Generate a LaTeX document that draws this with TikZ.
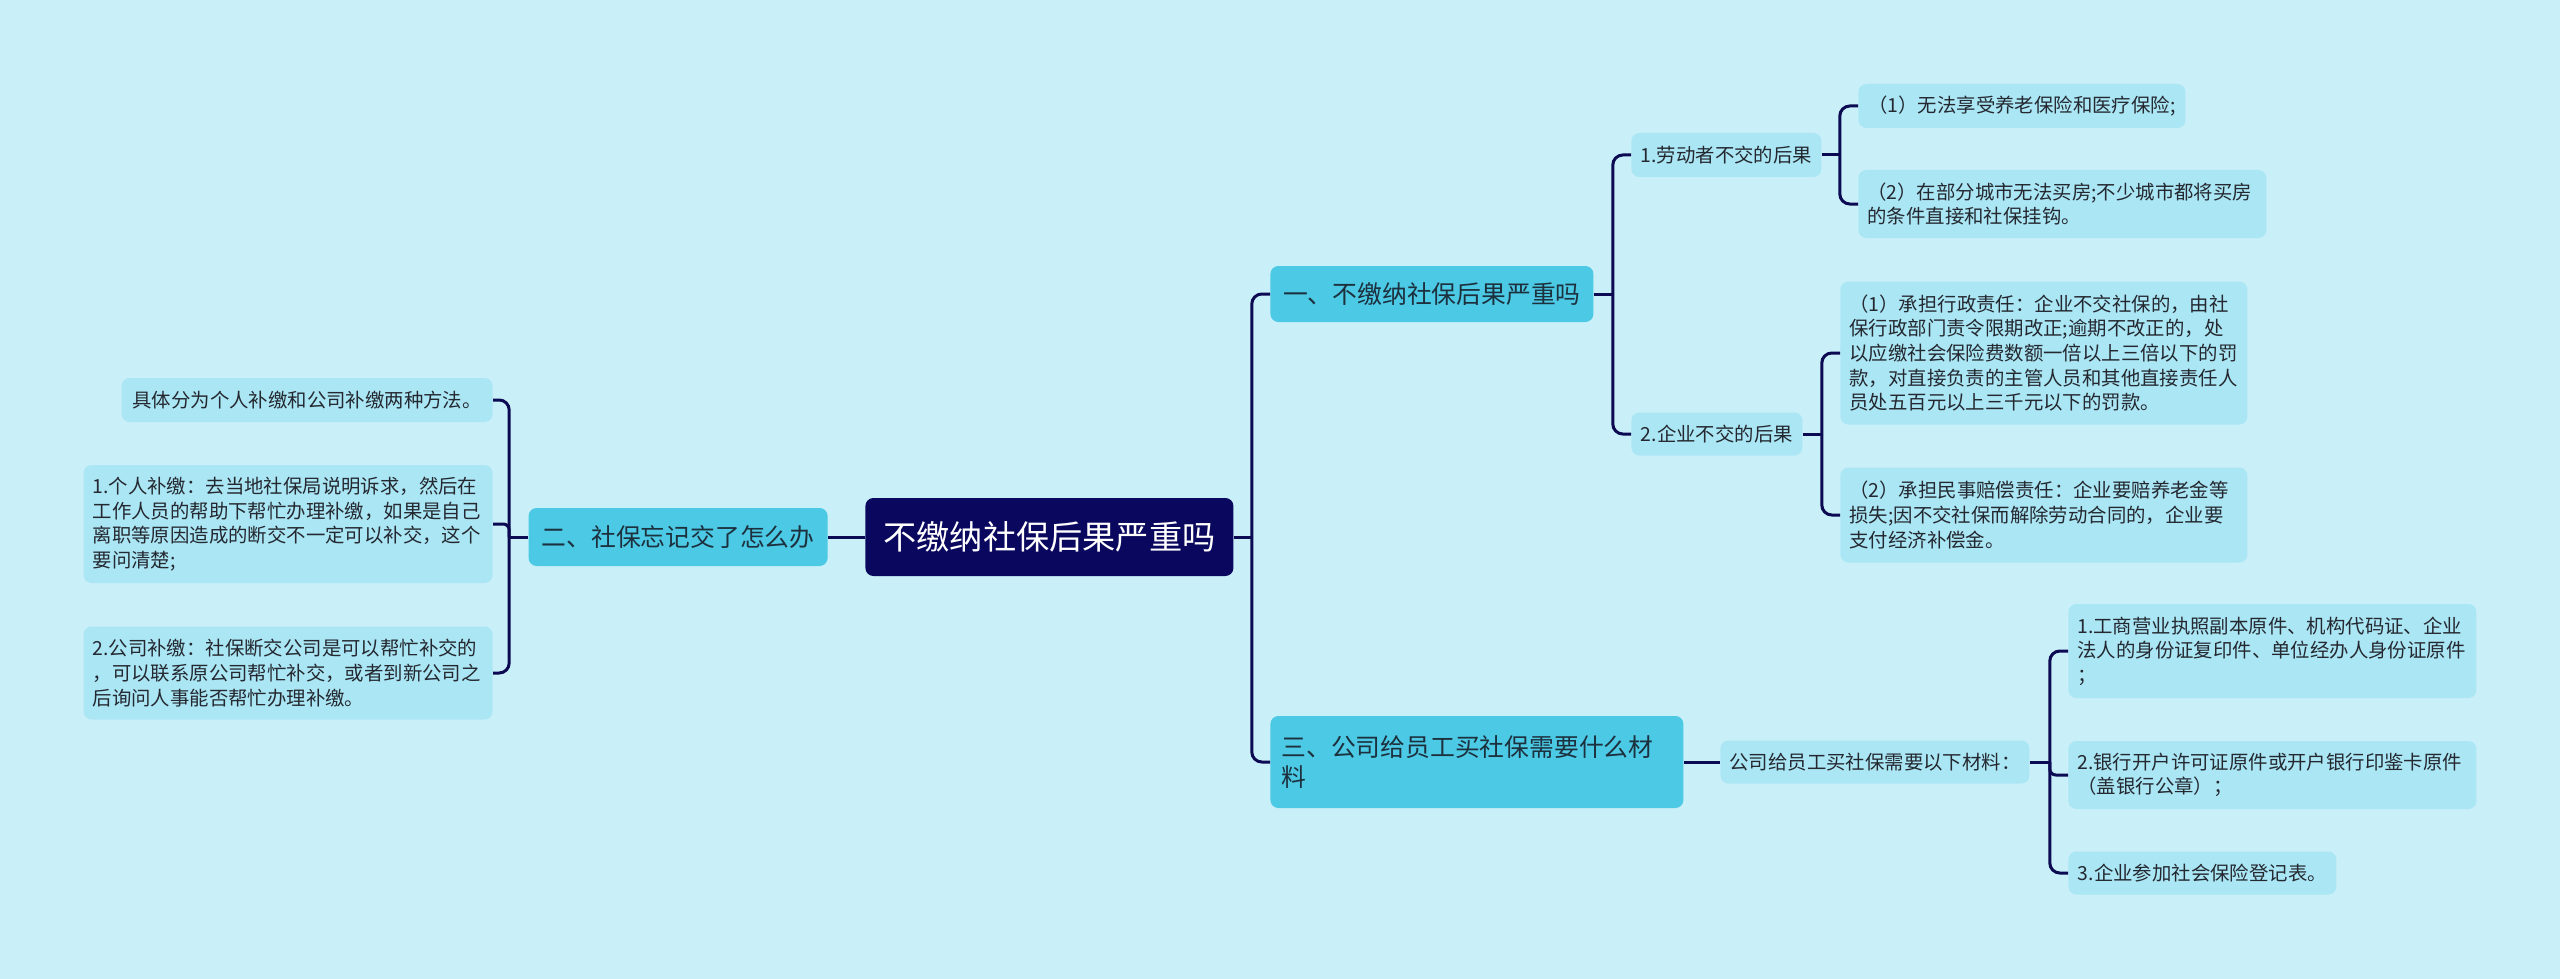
\documentclass[tikz,border=0pt]{standalone}
\usepackage{fontspec}
\newfontfamily\cjk{Noto Sans CJK SC}
\definecolor{bg}{RGB}{201,239,248}
\definecolor{lone}{RGB}{76,201,228}
\definecolor{leaf}{RGB}{171,230,244}
\definecolor{rootc}{RGB}{10,8,94}
\definecolor{linec}{RGB}{12,10,82}
\definecolor{txt}{RGB}{36,40,48}
\definecolor{txtone}{RGB}{28,48,62}
\tikzset{
  box/.style={rounded corners=4pt, inner xsep=4.5pt, inner ysep=0pt, fill=leaf, text=txt,
    font=\cjk\fontsize{9.7pt}{12.3pt}\selectfont},
  single/.style={box, inner xsep=0pt, align=center},
  multi/.style={box, align=left},
  lonebox/.style={box, fill=lone, text=txtone, font=\cjk\fontsize{12.4pt}{15pt}\selectfont},
  rootbox/.style={rounded corners=4pt, inner sep=0pt, fill=rootc, text=white,
    font=\cjk\fontsize{16.6pt}{20pt}\selectfont, align=center},
  conn/.style={draw=linec, line width=1.5pt, rounded corners=5pt},
  connshort/.style={draw=linec, line width=1.5pt, rounded corners=3pt},
}
\begin{document}
\begin{tikzpicture}[x=0.5pt,y=-0.5pt]
\fill[bg] (0,0) rectangle (2560,979);
\useasboundingbox (0,0) rectangle (2560,979);

% root
\node[rootbox, minimum width=184pt, minimum height=39pt, anchor=west] (root) at (865,537) {不缴纳社保后果严重吗};

% level 1
\node[lonebox, inner xsep=0pt, align=center, minimum width=161.5pt, minimum height=28pt, anchor=west] (la) at (1270,294) {一、不缴纳社保后果严重吗};
\node[lonebox, inner xsep=0pt, align=center, minimum width=149.5pt, minimum height=29pt, anchor=east] (lb) at (828,537) {二、社保忘记交了怎么办};
\node[lonebox, inner xsep=5.5pt, align=left, text width=195.5pt, minimum height=46pt, anchor=west] (lc) at (1270,762) {三、公司给员工买社保需要什么材\\料};

% level 2
\node[single, minimum width=95pt, minimum height=22pt, anchor=west] (ma) at (1631,155) {1.劳动者不交的后果};
\node[single, minimum width=85.5pt, minimum height=21.5pt, anchor=west] (mb) at (1631,434) {2.企业不交的后果};
\node[single, minimum width=154.5pt, minimum height=21.5pt, anchor=west] (mc) at (1720,762) {公司给员工买社保需要以下材料：};

% leaves right
\node[single, minimum width=163.5pt, minimum height=22pt, anchor=west] (a1) at (1858,106) {（1）无法享受养老保险和医疗保险;};
\node[multi, text width=195pt, minimum height=34pt, anchor=west] (a2) at (1858,204) {（2）在部分城市无法买房;不少城市都将买房\\的条件直接和社保挂钩。};
\node[multi, text width=194.5pt, minimum height=71.5pt, anchor=west] (b1) at (1840,353) {（1）承担行政责任：企业不交社保的，由社\\保行政部门责令限期改正;逾期不改正的，处\\以应缴社会保险费数额一倍以上三倍以下的罚\\款，对直接负责的主管人员和其他直接责任人\\员处五百元以上三千元以下的罚款。};
\node[multi, text width=194.5pt, minimum height=47.5pt, anchor=west] (b2) at (1840,515) {（2）承担民事赔偿责任：企业要赔养老金等\\损失;因不交社保而解除劳动合同的，企业要\\支付经济补偿金。};
\node[multi, text width=195pt, minimum height=47pt, anchor=west] (c1) at (2068,651) {1.工商营业执照副本原件、机构代码证、企业\\法人的身份证复印件、单位经办人身份证原件\\；};
\node[multi, text width=195pt, minimum height=34pt, anchor=west] (c2) at (2068,775) {2.银行开户许可证原件或开户银行印鉴卡原件\\（盖银行公章）；};
\node[single, minimum width=134pt, minimum height=21.5pt, anchor=west] (c3) at (2068,873) {3.企业参加社会保险登记表。};

% leaves left
\node[single, minimum width=185.5pt, minimum height=22pt, anchor=east] (l1) at (493,400) {具体分为个人补缴和公司补缴两种方法。};
\node[multi, text width=195.5pt, minimum height=59pt, anchor=east] (l2) at (493,524) {1.个人补缴：去当地社保局说明诉求，然后在\\工作人员的帮助下帮忙办理补缴，如果是自己\\离职等原因造成的断交不一定可以补交，这个\\要问清楚;};
\node[multi, text width=195.5pt, minimum height=46.5pt, anchor=east] (l3) at (493,673) {2.公司补缴：社保断交公司是可以帮忙补交的\\，可以联系原公司帮忙补交，或者到新公司之\\后询问人事能否帮忙办理补缴。};

% bus points
\coordinate (broot) at ([xshift=9pt]root.east);
\coordinate (bla) at ([xshift=9.5pt]la.east);
\coordinate (bma) at ([xshift=9pt]ma.east);
\coordinate (bmb) at ([xshift=9.5pt]mb.east);
\coordinate (bmc) at ([xshift=10pt]mc.east);
\coordinate (blb) at ([xshift=-9.5pt]lb.west);

% connectors
\draw[conn] (root.east) -- (broot);
\draw[conn] (broot) |- (la.west);
\draw[conn] (broot) |- (lc.west);
\draw[conn] (root.west) -- (lb.east);
\draw[conn] (la.east) -- (bla);
\draw[conn] (bla) |- (ma.west);
\draw[conn] (bla) |- (mb.west);
\draw[conn] (ma.east) -- (bma);
\draw[conn] (bma) |- (a1.west);
\draw[conn] (bma) |- (a2.west);
\draw[conn] (mb.east) -- (bmb);
\draw[conn] (bmb) |- (b1.west);
\draw[conn] (bmb) |- (b2.west);
\draw[conn] (lc.east) -- (mc.west);
\draw[conn] (mc.east) -- (bmc);
\draw[conn] (bmc) |- (c1.west);
\draw[connshort] (bmc) |- (c2.west);
\draw[conn] (bmc) |- (c3.west);
\draw[conn] (lb.west) -- (blb);
\draw[conn] (blb) |- (l1.east);
\draw[connshort] (blb) |- (l2.east);
\draw[conn] (blb) |- (l3.east);
\end{tikzpicture}
\end{document}
